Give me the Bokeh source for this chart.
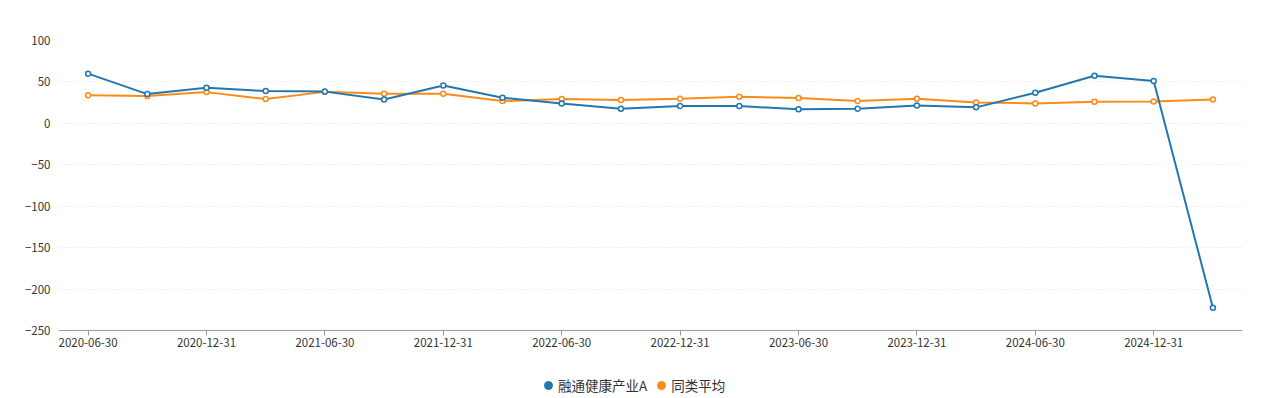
from bokeh.plotting import figure
from bokeh.models import (ColumnDataSource, Range1d, FixedTicker, Legend, LegendItem)
from bokeh.embed import file_html
from bokeh.resources import INLINE
import math

dates = ["2020-06-30", "2020-09-30", "2020-12-31", "2021-03-31", "2021-06-30",
         "2021-09-30", "2021-12-31", "2022-03-31", "2022-06-30", "2022-09-30",
         "2022-12-31", "2023-03-31", "2023-06-30", "2023-09-30", "2023-12-31",
         "2024-03-31", "2024-06-30", "2024-09-30", "2024-12-31", "2025-03-31"]
fund_name = "融通健康产业A"
avg_name = "同类平均"
fund = [60.0, 35.3, 43.0, 39.0, 38.3, 28.7, 45.8, 31.0, 24.0, 17.7,
        20.9, 20.9, 16.9, 17.7, 21.7, 19.3, 37.0, 57.4, 51.0, -222.5]
avg = [34.0, 33.0, 37.7, 29.3, 38.0, 35.7, 35.7, 26.9, 29.3, 28.1,
       29.7, 32.1, 30.5, 26.9, 29.7, 25.3, 24.1, 26.1, 26.5, 28.9]
y_ticks = [100, 50, 0, -50, -100, -150, -200, -250]

BLUE = "#2277ae"
ORANGE = "#fb8b17"
FONT = "Noto Sans CJK SC"

x = list(range(len(dates)))
src = ColumnDataSource(dict(x=x, fund=fund, avg=avg))

# frame: page y 40 (=100) .. 330 (=-250); extend frame to figure bottom (398)
px_per_unit = 290.0 / 350.0
y_bottom = 100 - 358.0 / px_per_unit

p = figure(width=1252, height=398, output_backend="svg", toolbar_location=None,
           x_range=Range1d(-0.5, len(dates) - 0.5), y_range=Range1d(y_bottom, 100),
           min_border_left=58, min_border_right=10, min_border_top=40,
           min_border_bottom=0)
p.outline_line_color = None
p.background_fill_color = "white"
p.border_fill_color = "white"

p.line("x", "avg", source=src, line_color=ORANGE, line_width=2)
p.scatter("x", "avg", source=src, size=5, marker="circle", line_color=ORANGE,
          line_width=1.5, fill_color="white")
p.line("x", "fund", source=src, line_color=BLUE, line_width=2)
p.scatter("x", "fund", source=src, size=5, marker="circle", line_color=BLUE,
          line_width=1.5, fill_color="white")

# grid
p.xgrid.grid_line_color = None
p.ygrid.grid_line_color = "#e2e2e2"
p.ygrid.grid_line_dash = "1 2"
p.ygrid.grid_line_width = 1

# y axis
p.yaxis.ticker = FixedTicker(ticks=y_ticks)
p.yaxis.axis_line_color = None
p.yaxis.major_tick_line_color = None
p.yaxis.major_tick_in = 0
p.yaxis.major_tick_out = 0
p.yaxis.minor_tick_line_color = None
p.yaxis.major_label_text_font = FONT
p.yaxis.major_label_text_font_size = "11.5px"
p.yaxis.major_label_text_color = "#333333"
p.yaxis.major_label_standoff = 8

# x axis drawn at y = -250
p.xaxis.fixed_location = -250
p.xaxis.ticker = FixedTicker(ticks=x[::2])
p.xaxis.major_label_overrides = {i: dates[i] for i in x[::2]}
p.xaxis.axis_line_color = "#999999"
p.xaxis.major_tick_line_color = "#999999"
p.xaxis.major_tick_in = 0
p.xaxis.major_tick_out = 5
p.xaxis.minor_tick_line_color = None
p.xaxis.major_label_text_font = FONT
p.xaxis.major_label_text_font_size = "11.5px"
p.xaxis.major_label_text_color = "#333333"
p.xaxis.major_label_standoff = 2

# legend with dot markers
nan_src = ColumnDataSource(dict(x=[math.nan], y=[math.nan]))
r1 = p.scatter("x", "y", source=nan_src, size=8, marker="circle",
               fill_color=BLUE, line_color=BLUE)
r2 = p.scatter("x", "y", source=nan_src, size=8, marker="circle",
               fill_color=ORANGE, line_color=ORANGE)
legend = Legend(items=[LegendItem(label=fund_name, renderers=[r1]),
                       LegendItem(label=avg_name, renderers=[r2])],
                orientation="horizontal", location=(480, 3),
                border_line_color=None, background_fill_alpha=0,
                label_text_font=FONT, label_text_font_size="13.5px",
                label_text_color="#333333", glyph_width=20, glyph_height=20,
                label_height=20, label_standoff=0, spacing=4, padding=0, margin=0)
p.add_layout(legend, "center")

open("out.html", "w").write(file_html(p, INLINE))
